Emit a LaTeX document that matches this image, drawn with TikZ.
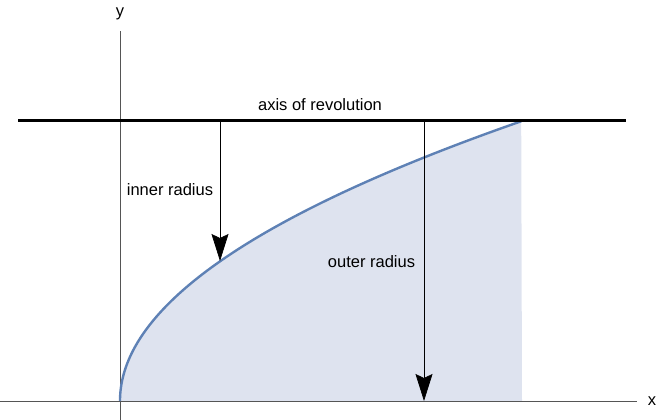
\documentclass[tikz,border=0pt]{standalone}
\usepackage{fontspec}
\setmainfont{Liberation Sans}
\usetikzlibrary{arrows.meta}
\definecolor{curveblue}{HTML}{5E81B5}
\definecolor{fillblue}{HTML}{DEE3EF}
\definecolor{axisgray}{HTML}{555555}
\tikzset{
  lbl/.style={font=\fontsize{16.5}{19}\selectfont, inner sep=0pt},
  axisline/.style={axisgray, line width=0.9pt},
  radarrow/.style={black, line width=0.7pt, -{Stealth[length=27pt,width=17pt,inset=4pt]}},
}
\begin{document}
\begin{tikzpicture}[x=1pt,y=1pt]
\useasboundingbox (0,0) rectangle (659,420);
% coordinates
\coordinate (O) at (120,19);
\coordinate (xl) at (0,19);
\coordinate (xr) at (637,19);
\coordinate (yb) at (120,0);
\coordinate (yt) at (120,389);
\coordinate (ar) at (18,299);
\coordinate (arr) at (626,299);
\coordinate (E) at (522,299);
\coordinate (Eb) at (522,19);
\coordinate (i0) at (220,299);
\coordinate (i1) at (220,159);
\coordinate (o0) at (424,299);
\coordinate (o1) at (424,19);
% shaded region
\fill[fillblue] (O) -- plot[domain=0:1, samples=200, smooth, variable=\t] ({120+402*\t*\t},{19+280*\t}) -- (Eb) -- cycle;
% axes
\draw[axisline] (xl) -- (xr);
\draw[axisline] (yb) -- (yt);
% curve
\draw[curveblue, line width=2.4pt] plot[domain=0:1, samples=200, smooth, variable=\t] ({120+402*\t*\t},{19+280*\t});
% axis of revolution
\draw[black, line width=3pt] (ar) -- (arr);
% arrows
\draw[radarrow] (i0) -- (i1);
\draw[radarrow] (o0) -- (o1);
% labels
\node[lbl] (ylab) at (120,406) {y};
\node[lbl] (xlab) at (652,19) {x};
\node[lbl] (axlab) at (320,315) {axis of revolution};
\node[lbl] (inlab) at (170,230) {inner radius};
\node[lbl] (outlab) at (371.5,158) {outer radius};
\end{tikzpicture}
\end{document}
